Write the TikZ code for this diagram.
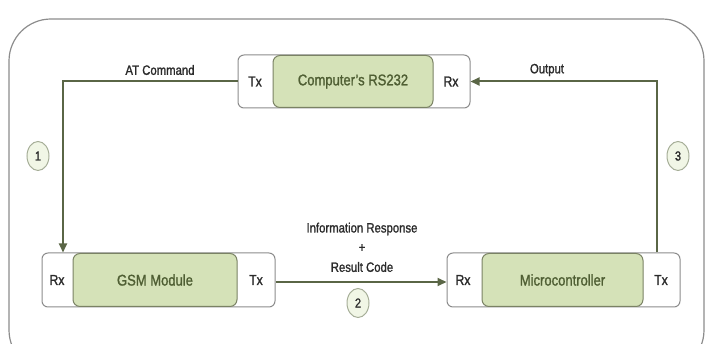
\documentclass[tikz,border=0pt]{standalone}
\usepackage{fontspec}
\setmainfont[FakeStretch=0.84,FakeBold=1.3]{Liberation Sans}
\usetikzlibrary{arrows.meta,shapes.geometric}
\definecolor{wire}{HTML}{5A6646}
\definecolor{boxline}{HTML}{8C8C8C}
\definecolor{greenfill}{HTML}{D5E2B8}
\definecolor{greenline}{HTML}{7A8264}
\definecolor{greentext}{HTML}{4F5E33}
\definecolor{labeltext}{HTML}{2A2A2A}
\definecolor{badgefill}{HTML}{F1F6E6}
\definecolor{badgeline}{HTML}{A6AE98}
\tikzset{
  frame/.style={draw=boxline, line width=1pt, rounded corners=6pt, fill=white, inner sep=0pt},
  core/.style={draw=greenline, line width=1pt, rounded corners=7pt, fill=greenfill, inner sep=0pt,
    font=\fontsize{15.5}{17}\selectfont, text=greentext},
  port/.style={font=\fontsize{14.5}{16}\selectfont, text=labeltext},
  wirelab/.style={font=\fontsize{13.5}{15}\selectfont, text=labeltext},
  link/.style={draw=wire, line width=2pt, -{Triangle[length=9pt,width=8pt]}},
  badge/.style={ellipse, draw=badgeline, line width=1pt, fill=badgefill, minimum width=22pt,
    minimum height=29pt, inner sep=0pt, font=\fontsize{13}{15}\selectfont, text=labeltext}
}
\begin{document}
\begin{tikzpicture}[x=1pt,y=-1pt]
\useasboundingbox (0,0) rectangle (706,344);
% outer enclosure, running past the lower edge
\begin{scope}
\clip (0,0) rectangle (706,344);
\draw[boxline, line width=1.2pt, rounded corners=42pt] (9,19) rectangle (704,372);
\end{scope}

% Computer's RS232
\node[frame, minimum width=232pt, minimum height=53pt] (pc) at (354,81.5) {};
\node[core, minimum width=160pt, minimum height=52pt] (pccore) at (353,81.5) {Computer's RS232};
\node[port] (pctx) at (255,81.5) {Tx};
\node[port] (pcrx) at (451,81.5) {Rx};

% GSM module
\node[frame, minimum width=233pt, minimum height=54pt] (gsm) at (158.5,280) {};
\node[core, minimum width=164pt, minimum height=53pt] (gsmcore) at (155,280) {GSM Module};
\node[port] (gsmrx) at (57,280) {Rx};
\node[port] (gsmtx) at (256,280) {Tx};

% Microcontroller
\node[frame, minimum width=233pt, minimum height=54pt] (mcu) at (563.5,280) {};
\node[core, minimum width=161pt, minimum height=53pt] (mcucore) at (562.5,280) {Microcontroller};
\node[port] (mcurx) at (463,280) {Rx};
\node[port] (mcutx) at (661,280) {Tx};

% connectors
\coordinate (c1) at (63,81.5);
\coordinate (c3) at (657,81.5);
\draw[link] (pc.west) -- (c1) -- (gsm.north west -| c1);
\draw[link] (mcu.north west -| c3) -- (c3) -- (pc.east);
\draw[link] (gsm.east |- 0,282) -- (mcu.west |- 0,282);

% connector labels
\node[wirelab] (atcmd) at (160,70) {AT Command};
\node[wirelab] (outlab) at (547,70) {Output};
\node[wirelab] (info) at (362,229) {Information Response};
\node[wirelab] (plus) at (362,248) {+};
\node[wirelab] (code) at (362,267) {Result Code};

% step badges
\node[badge] (b1) at (38,156) {1};
\node[badge] (b2) at (358,303) {2};
\node[badge] (b3) at (678,156) {3};
\end{tikzpicture}
\end{document}
